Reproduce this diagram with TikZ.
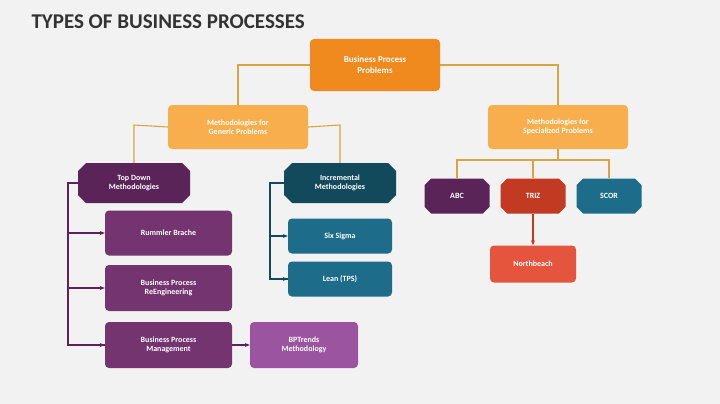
\documentclass[tikz,border=0pt]{standalone}
\usepackage{fontspec}
\setmainfont{Carlito}
\usetikzlibrary{shapes.misc,arrows.meta}
\definecolor{bg}{HTML}{F2F2F2}
\definecolor{otop}{HTML}{F08A1E}
\definecolor{olight}{HTML}{F8AE4C}
\definecolor{pdark}{HTML}{5A2458}
\definecolor{pmid}{HTML}{74346F}
\definecolor{plight}{HTML}{9B55A0}
\definecolor{tdark}{HTML}{124A5C}
\definecolor{tmid}{HTML}{1D6C8A}
\definecolor{rtriz}{HTML}{C23A22}
\definecolor{rnb}{HTML}{E5553D}
\definecolor{lnor}{HTML}{D9A441}
\begin{document}
\begin{tikzpicture}[x=1pt,y=-1pt,
 box/.style={rounded corners=4pt,text=white,font=\fontsize{8}{9.5}\selectfont\bfseries,align=center,inner sep=0pt},
 hdr/.style={chamfered rectangle,chamfered rectangle corners=all,chamfered rectangle xsep=4pt,chamfered rectangle ysep=4pt,text=white,font=\fontsize{8}{9.5}\selectfont\bfseries,align=center,inner sep=0pt},
 con/.style={line width=1.1pt},
 arr/.style={con,-{Stealth[length=5pt,width=4pt]}}]
\fill[bg] (0,0) rectangle (720,404);
\useasboundingbox (0,0) rectangle (720,404);
\node[anchor=west,font=\fontsize{21}{24}\selectfont\bfseries,text=black!80] (title) at (28,22) {TYPES OF BUSINESS PROCESSES};
% level 0
\node[box,fill=otop,minimum width=130pt,minimum height=52pt,font=\fontsize{9}{11}\selectfont\bfseries] (top) at (375,65) {Business Process\\Problems};
\node[box,fill=olight,minimum width=140pt,minimum height=44pt] (gen) at (238,127) {Methodologies for\\Generic Problems};
\node[box,fill=olight,minimum width=140pt,minimum height=44pt] (spe) at (558,127) {Methodologies for\\Specialized Problems};
\draw[con,lnor] (top.west) -| (gen.north);
\draw[con,lnor] (top.east) -| (spe.north);
% left subtree
\node[hdr,fill=pdark,minimum width=112pt,minimum height=40pt] (td) at (134,183) {Top Down\\Methodologies};
\node[hdr,fill=tdark,minimum width=112pt,minimum height=40pt] (inc) at (340,183) {Incremental\\Methodologies};
\coordinate (gl) at (134,125); \coordinate (gr) at (340,125);
\draw[con,lnor] (gen.west) -- (gl) -- (td.north);
\draw[con,lnor] (gen.east) -- (gr) -- (inc.north);
\node[box,fill=pmid,minimum width=127pt,minimum height=45pt] (rb) at (168.5,233) {Rummler Brache};
\node[box,fill=pmid,minimum width=127pt,minimum height=46pt] (bpr) at (168.5,288) {Business Process\\ReEngineering};
\node[box,fill=pmid,minimum width=127pt,minimum height=46pt] (bpm) at (168.5,345) {Business Process\\Management};
\node[box,fill=plight,minimum width=108pt,minimum height=46pt] (bpt) at (304,345) {BPTrends\\Methodology};
\coordinate (tdl) at (68,183);
\draw[con,pdark] (td.west) -- (tdl) |- (bpm.west);
\draw[arr,pdark] (tdl) |- (rb.west);
\draw[arr,pdark] (tdl) |- (bpr.west);
\draw[arr,pdark] (68,340) |- (bpm.west);
\draw[arr,pdark] (bpm.east) -- (bpt.west);
\node[box,fill=tmid,minimum width=104pt,minimum height=35pt] (six) at (340,236) {Six Sigma};
\node[box,fill=tmid,minimum width=104pt,minimum height=35pt] (lean) at (340,279) {Lean (TPS)};
\coordinate (incl) at (270,183);
\draw[con,tdark] (inc.west) -- (incl) |- (lean.west);
\draw[arr,tdark] (incl) |- (six.west);
\draw[arr,tdark] (270,275) |- (lean.west);
% right subtree
\node[hdr,fill=pdark,minimum width=65pt,minimum height=35pt] (abc) at (457,196) {ABC};
\node[hdr,fill=rtriz,minimum width=65pt,minimum height=35pt] (triz) at (533,196) {TRIZ};
\node[hdr,fill=tmid,minimum width=65pt,minimum height=35pt] (scor) at (609,196) {SCOR};
\coordinate (sp) at (558,160);
\draw[con,lnor] (spe.south) -- (sp);
\draw[con,lnor] (abc.north) |- (sp) -| (scor.north);
\draw[con,lnor] (triz.north) |- (sp);
\node[box,fill=rnb,minimum width=86pt,minimum height=37pt] (nb) at (533,264) {Northbeach};
\draw[arr,rtriz] (triz.south) -- (nb.north);
\end{tikzpicture}
\end{document}
